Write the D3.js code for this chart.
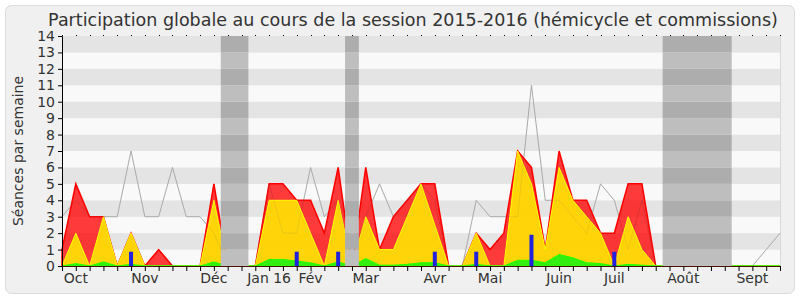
<!DOCTYPE html>
<html><head><meta charset="utf-8">
<script src="https://cdn.jsdelivr.net/npm/d3@7"></script>
<style>body{margin:0;background:#fff}svg{display:block}text{font-family:"DejaVu Sans",sans-serif;fill:#333}</style>
</head><body><svg id="c" width="800" height="300"></svg>
<script>
const titleText = "Participation globale au cours de la session 2015-2016 (hémicycle et commissions)";
const yTitle = "Séances par semaine";
// weekly values, index 0..52
const total   = [1,5,3,3,0,2,0,1,0,0,0,5,0,0,0,5,5,4,4,2,6,0,6,1,3,4,5,5,0,0,2,1,2,7,6,1,7,4,4,2,2,5,5,0,0,0,0,0,0,0,0,0,0];
const yellow  = [0,2,0,3,0,2,0,0,0,0,0,4,0,0,0,4,4,4,2,0,4,0,3,1,1,3,5,2.5,0,0,2,0,0,7,5,1,6,4,3,2,0,3,1,0,0,0,0,0,0,0,0,0,0];
const green   = [0,0.15,0,0.25,0,0.1,0,0,0,0,0,0.25,0,0,0,0.4,0.4,0.3,0.2,0,0.25,0,0.45,0.05,0.05,0.1,0.2,0.2,0,0,0.1,0,0,0.35,0.35,0.2,0.7,0.5,0.2,0.15,0,0.1,0.05,0,0,0,0,0,0,0,0,0,0];
const median  = [3,4,3,3,3,7,3,3,6,3,3,2,0,0,0,5,2,2,6,3,4,0,3,5,3,4,5,4,0,0,4,3,3,3,11,4,4,3,2,5,4,1,4,0,0,0,0,0,0,0,0,1,2];
const questionWeeks  = [5,17,20,27,30,34,40];
const questionValues = [0.87,0.87,0.87,0.87,0.87,1.9,0.87];
const vacations = [[11.5,13.5],[20.5,21.5],[43.5,48.5]];
const monthLabels = ["Oct","Nov","Déc","Jan 16","Fév","Mar","Avr","Mai","Juin","Juil","Août","Sept"];
const monthWeeks  = [1,6,11,15,18,22,27,31,36,40,45,50];
const yTicks = d3.range(0,15);

const svg = d3.select("#c");
const L=62,R=780,T=36,B=266;
const x = d3.scaleLinear().domain([0,52]).range([L,R]);
const y = d3.scaleLinear().domain([0,14]).range([B,T]);

// panel
svg.append("rect").attr("x",5.5).attr("y",5.5).attr("width",789).attr("height",288).attr("rx",6)
  .attr("fill","#f0f0f0").attr("stroke","#dcdcdc");

// stripes
const g = svg.append("g");
yTicks.slice(0,14).forEach(v=>{
  g.append("rect").attr("x",L).attr("width",R-L).attr("y",y(v+1)).attr("height",y(v)-y(v+1))
   .attr("fill", v%2===1 ? "#e4e4e4" : "#f9f9f9");
});

const area = () => d3.area().x((d,i)=>x(i)).y0(y(0)).y1(d=>y(d));
const line = d3.line().x((d,i)=>x(i)).y(d=>y(d));
// median line (below translucent areas)
g.append("path").datum(median).attr("d",line).attr("fill","none").attr("stroke","#b4b4b4").attr("stroke-width",1);
// areas
g.append("path").datum(total).attr("d",area()).attr("fill","rgba(255,0,0,0.77)").attr("stroke","#ff0000").attr("stroke-width",1.5);
g.append("path").datum(yellow).attr("d",area()).attr("fill","rgba(255,240,0,0.85)").attr("stroke","#ffff00").attr("stroke-width",1);
g.append("path").datum(green).attr("d",area()).attr("fill","#33ee11").attr("stroke","#22ff00").attr("stroke-width",1);
// faint median trace over the areas
g.append("path").datum(median).attr("d",line).attr("fill","none").attr("stroke","#777").attr("stroke-opacity",0.13).attr("stroke-width",1);

// question bars
questionWeeks.forEach((w,k)=>{
  g.append("rect").attr("x",x(w)-2).attr("width",4).attr("y",y(questionValues[k])).attr("height",y(0)-y(questionValues[k])).attr("fill","#2222dd");
});

// vacation bands (opaque, striped)
vacations.forEach(([a,b])=>{
  yTicks.slice(0,14).forEach(v=>{
    g.append("rect").attr("x",x(a)).attr("width",x(b)-x(a)).attr("y",y(v+1)).attr("height",y(v)-y(v+1))
     .attr("fill", v%2===1 ? "#adadad" : "#bebebe");
  });
});

// right border
g.append("line").attr("x1",R+0.5).attr("x2",R+0.5).attr("y1",T).attr("y2",B).attr("stroke","#d8d8d8");

// axes
const yAxis = d3.axisLeft(y).tickValues(yTicks).tickSize(4).tickPadding(3).tickFormat(d3.format("d"));
const ya = svg.append("g").attr("transform",`translate(${L},0)`).call(yAxis);
ya.select(".domain").attr("stroke","#000");
ya.selectAll("text").style("font-size","14px").attr("fill","#333");

const xAxis = d3.axisBottom(x).tickValues(d3.range(0,53)).tickSize(5).tickFormat("");
const xa = svg.append("g").attr("transform",`translate(0,${B})`).call(xAxis);
xa.select(".domain").attr("stroke","#4a1500").attr("d",`M${L},0.5H${R}`);
xa.selectAll(".tick line").attr("stroke","#000");

// top dotted ticks
svg.append("g").selectAll("rect").data(d3.range(0,53)).join("rect")
  .attr("x",d=>Math.round(x(d))).attr("y",T-1).attr("width",1).attr("height",1).attr("fill","#000");

// month labels
svg.append("g").selectAll("text").data(monthLabels).join("text")
  .attr("x",(d,i)=>x(monthWeeks[i])).attr("y",283).attr("text-anchor","middle")
  .style("font-size","14px").text(d=>d);

// titles
svg.append("text").attr("x",413).attr("y",26).attr("text-anchor","middle").style("font-size","17.5px").text(titleText);
svg.append("text").attr("transform","translate(23,151) rotate(-90)").attr("text-anchor","middle").style("font-size","14px").text(yTitle);
</script></body></html>
